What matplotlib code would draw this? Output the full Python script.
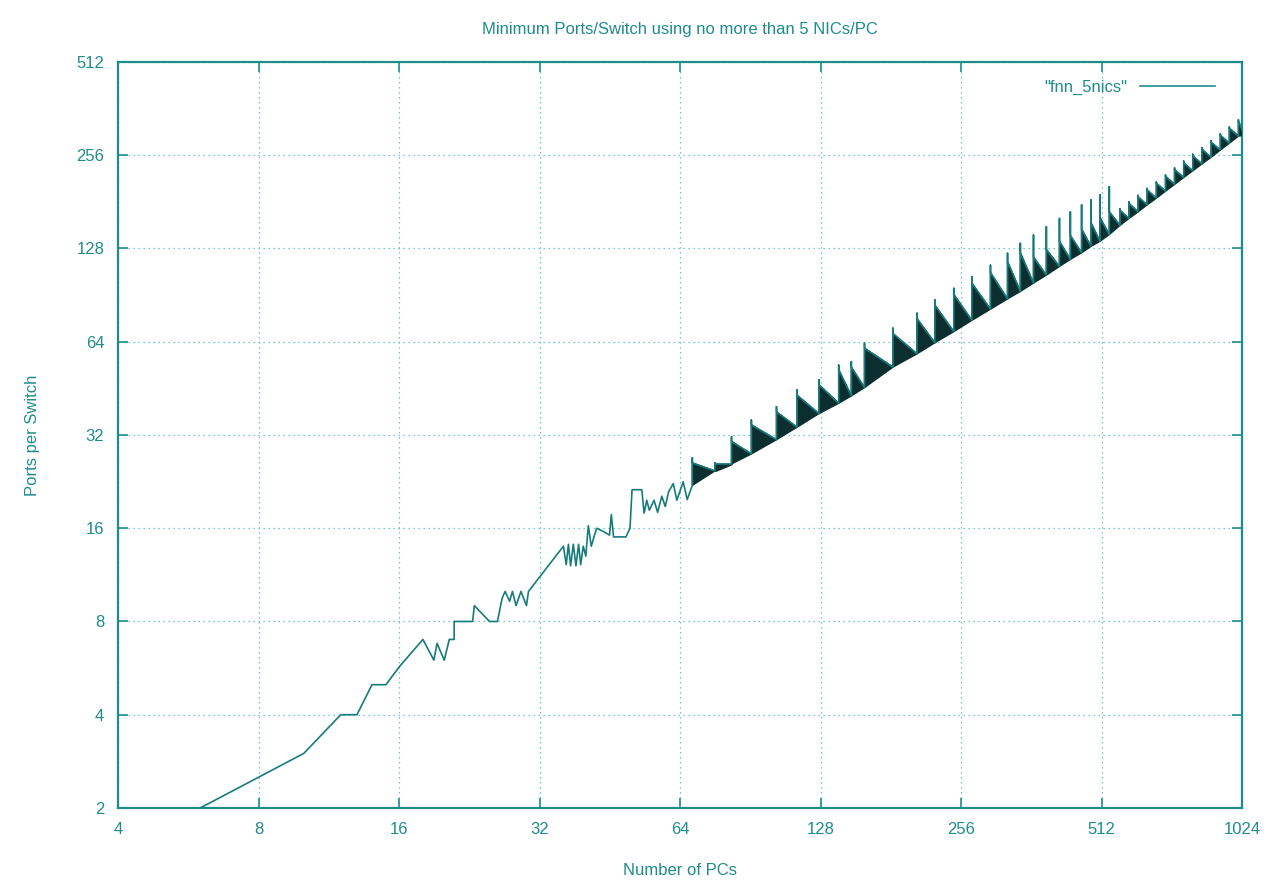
import matplotlib
matplotlib.use("Agg")
import matplotlib.pyplot as plt
from matplotlib.patches import Polygon

# ── data ───────────────────────────────────────────────────────────────────
# sparse part of the curve (number of PCs, ports per switch)
pcs = [6, 10, 12, 13, 14, 15, 16, 18, 19, 19.3, 20, 20.5, 21, 21, 23, 23.2,
       25, 26, 26.6, 27, 27.6, 28, 28.5, 29.2, 30, 30.3, 36,
       36.5, 36.9, 37.3, 37.8, 38.3, 38.8, 39.2, 39.7, 40.2, 40.7, 41.3,
       42.4, 43.9, 45.2, 45.6, 46.1, 49, 50, 50.5, 53, 53.6, 54.3, 55,
       56.3, 57.3, 58.5, 59.5, 60.5, 61.9, 63, 65, 66.3]
ports = [2, 3, 4, 4, 5, 5, 5.7, 7, 6, 6.8, 6, 7, 7, 8, 8, 9,
         8, 8, 9.5, 10, 9.3, 10, 9, 10, 9, 10, 14,
         12.2, 14.2, 12.1, 14.2, 12.1, 14.2, 12.2, 14, 13, 16.3, 14,
         16, 15.6, 15.2, 17.7, 15, 15, 16, 21.3, 21.3, 17.9, 19.7, 18.3,
         19.7, 18, 20.3, 18.8, 21, 22.3, 19.7, 22.6, 19.8]

# dense sawtooth part: position of each jump, value just before it,
# top of the spike and top of the dense band right after it
tooth_n = [68, 76, 82.5, 91, 103, 114, 127, 140, 149, 159, 183, 206, 225,
           247, 270, 296, 322, 343, 366, 390, 416, 439, 464, 486, 508, 532,
           561, 586, 613, 641, 671, 702, 734, 768, 803, 840, 879, 920, 962,
           1006]
tooth_low = [22, 24.5, 25.8, 27.8, 30.9, 33.9, 37.5, 40.5, 42.8, 45.5, 53,
             58.5, 63.5, 69, 75, 81.5, 88, 93, 99, 105, 112, 118, 124, 130,
             135, 142, 152, 160, 168, 177, 186, 196, 206, 217, 228, 240, 252,
             266, 280, 295]
tooth_top = [27, 26, 31.6, 35.8, 39.5, 44.7, 48.2, 53.8, 55.2, 63.3, 70.8,
             79.1, 87.3, 95.2, 103.8, 113, 123.5, 133, 141.5, 150.5, 160,
             168, 177, 183.5, 190.6, 202.6, 172, 181, 190, 200, 210, 221,
             233, 245, 258, 271, 285, 300, 316, 333]
tooth_band = [26, 25.8, 30.5, 34.5, 38, 43, 46.5, 52, 53, 61, 68, 76, 84,
              91, 99, 107, 116, 124, 120, 127, 135, 141, 148, 155, 161, 168,
              170, 179, 188, 198, 208, 219, 230, 242, 255, 268, 282, 297,
              313, 330]
end_n, end_p = 1024, 312

xticks = [4, 8, 16, 32, 64, 128, 256, 512, 1024]
yticks = [2, 4, 8, 16, 32, 64, 128, 256, 512]

# ── style ──────────────────────────────────────────────────────────────────
teal = "#1f8c8c"
line_col = "#187b7b"
dense_col = "#0c2e2e"
plt.rcParams["font.family"] = ["Liberation Sans", "DejaVu Sans"]

fig = plt.figure(figsize=(12.79, 8.91), dpi=100)
ax = fig.add_axes([0.0923, 0.0932, 0.8788, 0.8372])

# build the full path
xs = list(pcs)
ys = list(ports)
for n, lo, top, band in zip(tooth_n, tooth_low, tooth_top, tooth_band):
    xs += [n, n, n]
    ys += [lo, top, band]
xs.append(end_n)
ys.append(end_p)

# dense wedges after each jump
nxt_n = tooth_n[1:] + [end_n]
nxt_low = tooth_low[1:] + [end_p * 0.95]
for n, lo, band, n2, lo2 in zip(tooth_n, tooth_low, tooth_band, nxt_n, nxt_low):
    ax.add_patch(Polygon([(n, lo), (n, band), (n2, lo2)], closed=True,
                         facecolor=dense_col, edgecolor=dense_col, lw=1.0,
                         zorder=3))

ax.plot(xs, ys, color=line_col, lw=1.2, zorder=4, label='"fnn_5nics"')

ax.set_xscale("log", base=2)
ax.set_yscale("log", base=2)
ax.set_xlim(4, 1024)
ax.set_ylim(2, 512)
ax.set_xticks(xticks)
ax.set_xticklabels([str(t) for t in xticks])
ax.set_yticks(yticks)
ax.set_yticklabels([str(t) for t in yticks])
ax.minorticks_off()
ax.tick_params(axis="both", which="major", direction="in", length=7,
               width=1.2, color=teal, labelcolor=teal, labelsize=12,
               top=True, right=True, pad=10)
ax.grid(True, linestyle=(0, (1, 3)), color="#4fb8b8", linewidth=0.9)
for sp in ax.spines.values():
    sp.set_color(teal)
    sp.set_linewidth(1.6)

ax.set_title("Minimum Ports/Switch using no more than 5 NICs/PC",
             color=teal, fontsize=12, pad=20)
ax.set_xlabel("Number of PCs", color=teal, fontsize=12, labelpad=19)
ax.set_ylabel("Ports per Switch", color=teal, fontsize=12, labelpad=26)

leg = ax.legend(loc="upper right", bbox_to_anchor=(0.982, 0.985),
                frameon=False, fontsize=12, labelcolor=teal,
                markerfirst=False, handlelength=4.5, borderaxespad=0.0)
for h in leg.get_lines():
    h.set_color(teal)

fig.savefig("out.png", dpi=100)
